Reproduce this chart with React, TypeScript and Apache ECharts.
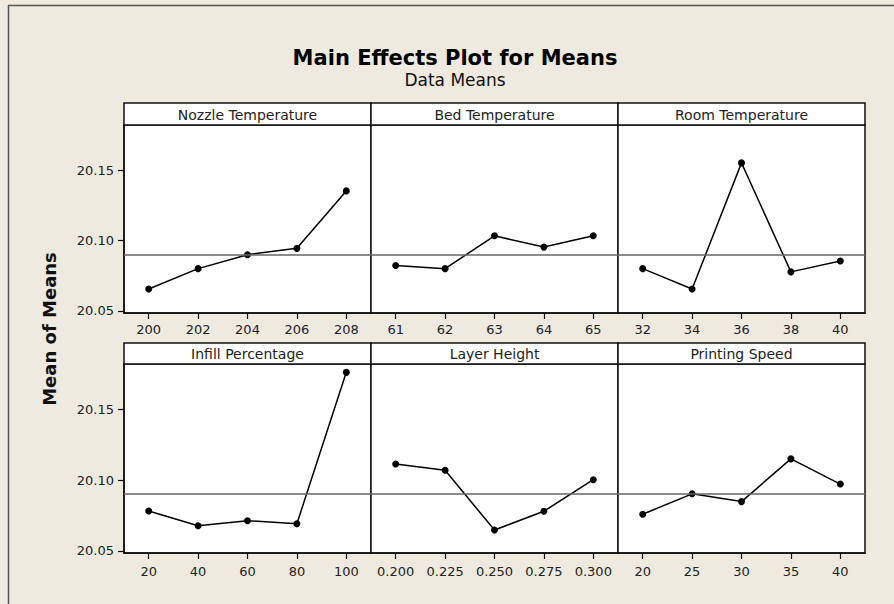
import React, { useEffect, useRef } from "react";
import * as echarts from "echarts";

// ---- Data ----
const factorNames = [
  "Nozzle Temperature",
  "Bed Temperature",
  "Room Temperature",
  "Infill Percentage",
  "Layer Height",
  "Printing Speed",
];

const nozzleLevels = ["200", "202", "204", "206", "208"];
const nozzleMeans = [20.0655, 20.08, 20.0899, 20.0944, 20.1352];

const bedLevels = ["61", "62", "63", "64", "65"];
const bedMeans = [20.0822, 20.08, 20.1033, 20.0953, 20.1033];

const roomLevels = ["32", "34", "36", "38", "40"];
const roomMeans = [20.08, 20.0655, 20.1551, 20.0777, 20.0854];

const infillLevels = ["20", "40", "60", "80", "100"];
const infillMeans = [20.0782, 20.0678, 20.0713, 20.0692, 20.1761];

const layerLevels = ["0.200", "0.225", "0.250", "0.275", "0.300"];
const layerMeans = [20.1114, 20.1069, 20.0647, 20.078, 20.1003];

const speedLevels = ["20", "25", "30", "35", "40"];
const speedMeans = [20.0759, 20.0903, 20.0848, 20.115, 20.0972];

const overallMean = 20.092;
const yTickValues = [20.05, 20.1, 20.15];

const titleText = "Main Effects Plot for Means";
const subtitleText = "Data Means";
const yAxisTitle = "Mean of Means";

const levelsList = [nozzleLevels, bedLevels, roomLevels, infillLevels, layerLevels, speedLevels];
const meansList = [nozzleMeans, bedMeans, roomMeans, infillMeans, layerMeans, speedMeans];

// ---- Layout ----
const FONT = '"DejaVu Sans", Verdana, sans-serif';
const colLeft = [124, 371, 618];
const colWidth = 247;
const rows = [
  { stripTop: 103, plotTop: 125, plotBottom: 313, labelMargin: 10 },
  { stripTop: 343, plotTop: 364, plotBottom: 553, labelMargin: 12 },
];
const yMin = 20.0485;
const yMax = 20.182;

export default function App() {
  const ref = useRef<HTMLDivElement>(null);

  useEffect(() => {
    if (!ref.current) return;
    const chart = echarts.init(ref.current, undefined, { renderer: "svg" });

    const grids: any[] = [];
    const xAxes: any[] = [];
    const yAxes: any[] = [];
    const series: any[] = [];
    const graphics: any[] = [];

    // frame lines
    graphics.push({
      type: "line",
      shape: { x1: 8, y1: 5.5, x2: 894, y2: 5.5 },
      style: { stroke: "#555", lineWidth: 1.5 },
    });
    graphics.push({
      type: "line",
      shape: { x1: 8.5, y1: 5, x2: 8.5, y2: 604 },
      style: { stroke: "#555", lineWidth: 1.5 },
    });

    // titles
    graphics.push({
      type: "text",
      x: 455,
      y: 58,
      style: {
        text: titleText,
        fill: "#000",
        fontSize: 21,
        fontWeight: "bold",
        fontFamily: FONT,
        align: "center",
        verticalAlign: "middle",
      },
    });
    graphics.push({
      type: "text",
      x: 455,
      y: 80,
      style: {
        text: subtitleText,
        fill: "#111",
        fontSize: 17,
        fontFamily: FONT,
        align: "center",
        verticalAlign: "middle",
      },
    });
    graphics.push({
      type: "text",
      x: 49,
      y: 329,
      rotation: Math.PI / 2,
      style: {
        text: yAxisTitle,
        fill: "#111",
        fontSize: 18,
        fontWeight: "bold",
        fontFamily: FONT,
        align: "center",
        verticalAlign: "middle",
      },
    });

    factorNames.forEach((name, i) => {
      const r = Math.floor(i / 3);
      const c = i % 3;
      const row = rows[r];
      grids.push({
        left: colLeft[c],
        top: row.plotTop,
        width: colWidth,
        height: row.plotBottom - row.plotTop,
        show: true,
        backgroundColor: "#fff",
        borderColor: "#111",
        borderWidth: 1.5,
        containLabel: false,
      });
      xAxes.push({
        type: "category",
        gridIndex: i,
        data: levelsList[i],
        boundaryGap: true,
        axisLine: { show: true, lineStyle: { color: "#111", width: 1.5 } },
        axisTick: { show: true, alignWithLabel: true, length: 6, lineStyle: { color: "#111", width: 1.2 } },
        axisLabel: { color: "#222", fontSize: 13, fontFamily: FONT, margin: row.labelMargin },
        splitLine: { show: false },
      });
      yAxes.push({
        type: "value",
        gridIndex: i,
        min: yMin,
        max: yMax,
        axisLine: { show: c === 0, lineStyle: { color: "#111", width: 1.5 } },
        axisTick: {
          show: c === 0,
          length: 6,
          customValues: yTickValues,
          lineStyle: { color: "#111", width: 1.2 },
        },
        axisLabel: {
          show: c === 0,
          customValues: yTickValues,
          color: "#222",
          fontSize: 13,
          fontFamily: FONT,
          margin: 10,
          formatter: (v: number) => v.toFixed(2),
        },
        splitLine: { show: false },
      });
      series.push({
        type: "line",
        name,
        xAxisIndex: i,
        yAxisIndex: i,
        data: meansList[i],
        symbol: "circle",
        symbolSize: 7,
        itemStyle: { color: "#000" },
        lineStyle: { color: "#000", width: 1.5 },
        markLine: {
          silent: true,
          symbol: ["none", "none"],
          label: { show: false },
          lineStyle: { color: "#666", width: 1.5, type: "solid" },
          data: [{ yAxis: overallMean }],
        },
        z: 3,
      });
      // strip
      graphics.push({
        type: "rect",
        shape: {
          x: colLeft[c],
          y: row.stripTop,
          width: colWidth,
          height: row.plotTop - row.stripTop,
        },
        style: { fill: "#fff", stroke: "#111", lineWidth: 1.5 },
      });
      graphics.push({
        type: "text",
        x: colLeft[c] + colWidth / 2,
        y: (row.stripTop + row.plotTop) / 2 + 0.5,
        style: {
          text: name,
          fill: "#222",
          fontSize: 14,
          fontFamily: FONT,
          align: "center",
          verticalAlign: "middle",
        },
      });
    });

    chart.setOption({
      animation: false,
      backgroundColor: "#EEEAE0",
      grid: grids,
      xAxis: xAxes,
      yAxis: yAxes,
      series,
      graphic: graphics,
    });

    return () => chart.dispose();
  }, []);

  return (
    <div
      ref={ref}
      style={{ position: "fixed", left: 0, top: 0, width: 894, height: 604 }}
    />
  );
}
